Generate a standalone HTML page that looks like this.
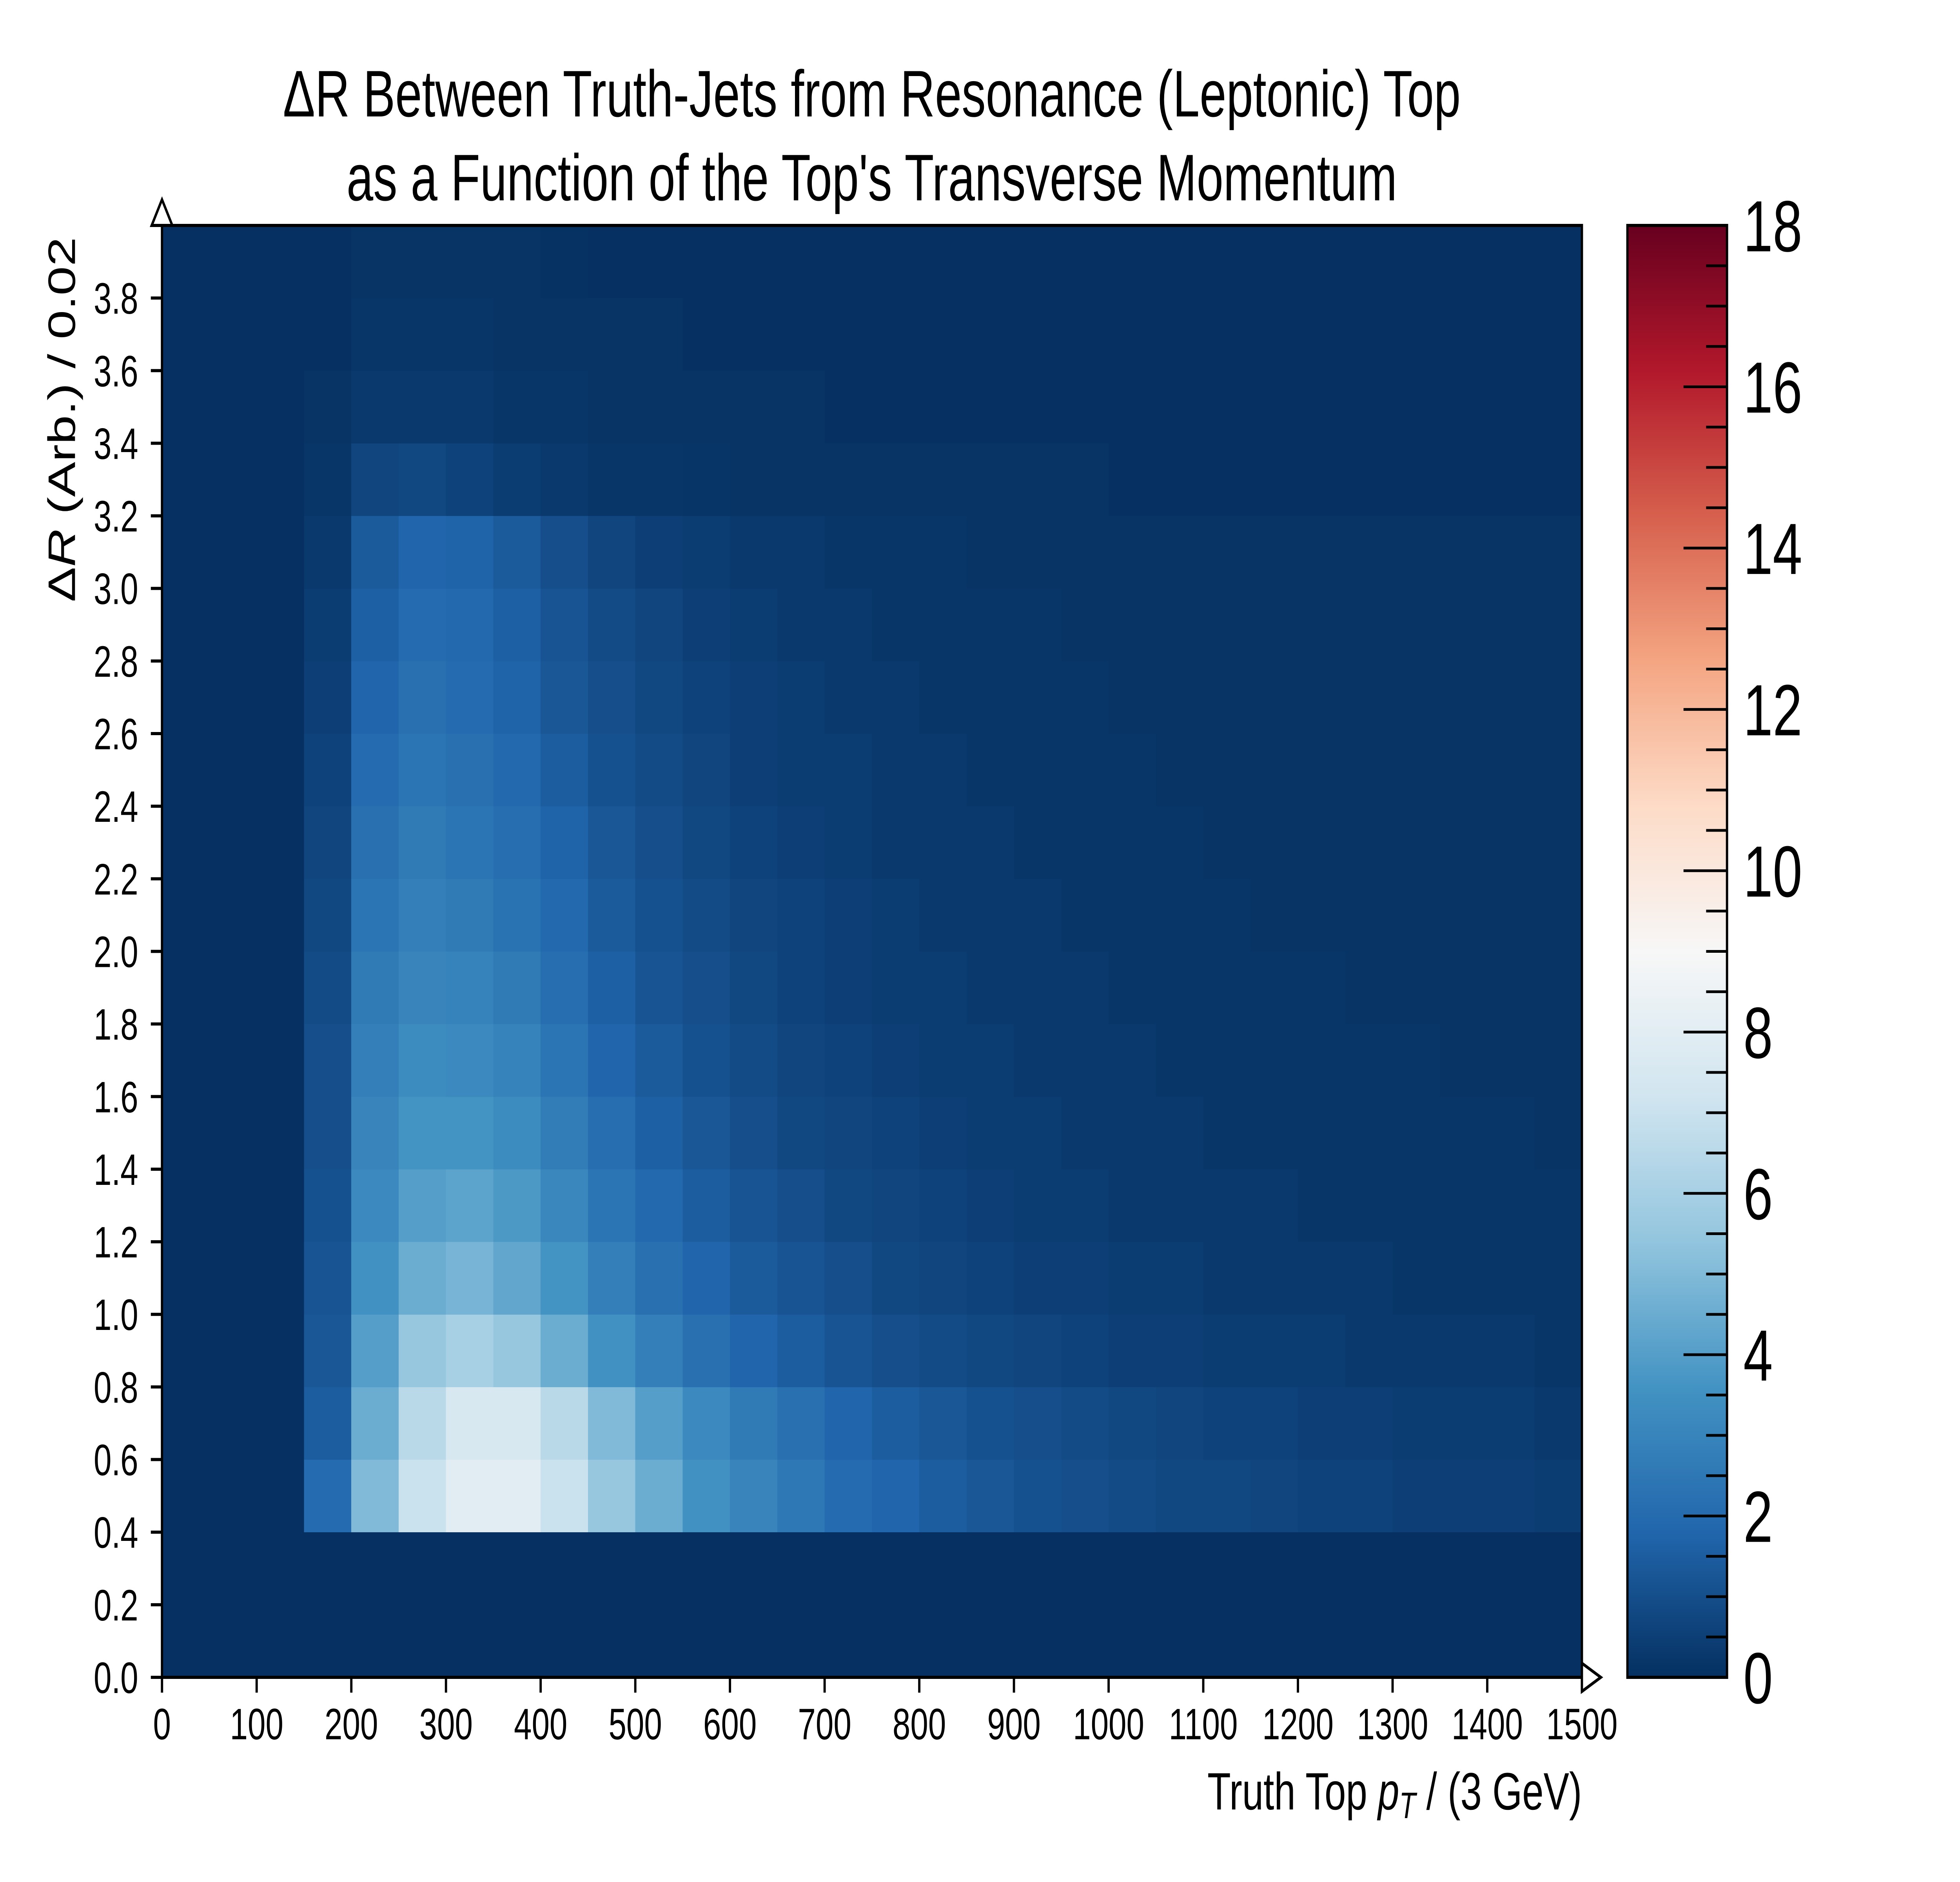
<!DOCTYPE html>
<html><head><meta charset="utf-8"><style>
html,body{margin:0;padding:0;background:#fff;overflow:hidden;width:100%;height:100%;}
svg{display:block;font-family:"Liberation Sans",sans-serif;width:100vw;height:100vh;}
</style></head><body>
<svg id="chart" viewBox="0 0 6848 4800" preserveAspectRatio="none" xmlns="http://www.w3.org/2000/svg">
<text x="3046" y="297" font-size="168" text-anchor="middle">ΔR Between Truth-Jets from Resonance (Leptonic) Top</text>
<text x="3046" y="511" font-size="168" text-anchor="middle">as a Function of the Top's Transverse Momentum</text>
<g id="cells"></g>
<g id="axes"></g>
<g id="cbar"></g>
<text x="5527" y="4615" font-size="134" text-anchor="end">Truth Top <tspan font-style="italic">p</tspan><tspan font-style="italic" font-size="94" dy="22">T</tspan><tspan dy="-22"> / (3 GeV)</tspan></text>
<text transform="translate(262,1070) rotate(-90)" font-size="134" text-anchor="middle">Δ<tspan font-style="italic">R</tspan> (Arb.) / 0.02</text>
</svg>
<script>
const xTicks=[0,100,200,300,400,500,600,700,800,900,1000,1100,1200,1300,1400,1500];
const yTicks=[0.0,0.2,0.4,0.6,0.8,1.0,1.2,1.4,1.6,1.8,2.0,2.2,2.4,2.6,2.8,3.0,3.2,3.4,3.6,3.8];
const cbarTicks=[0,2,4,6,8,10,12,14,16,18];
const xBinWidth=50;
const yBinWidth=0.2;
const grid=[
[0,0,0,0,0,0,0,0,0,0,0,0,0,0,0,0,0,0,0,0,0,0,0,0,0,0,0,0,0,0],
[0,0,0,0,0,0,0,0,0,0,0,0,0,0,0,0,0,0,0,0,0,0,0,0,0,0,0,0,0,0],
[0,0,0,2,5,7,8,8,7,5.5,4.5,3.5,3,2.5,2,1.8,1.5,1.3,1.1,1,0.9,0.8,0.8,0.7,0.6,0.6,0.5,0.5,0.5,0.4],
[0,0,0,1.5,4.5,6.5,7.5,7.5,6.5,5,4,3.2,2.6,2.2,1.8,1.5,1.3,1.1,1,0.9,0.8,0.7,0.6,0.6,0.5,0.5,0.4,0.4,0.4,0.3],
[0,0,0,1.3,4,5.5,6,5.5,4.5,3.5,2.8,2.2,1.8,1.5,1.2,1,0.9,0.8,0.7,0.6,0.5,0.5,0.4,0.4,0.4,0.3,0.3,0.3,0.3,0.2],
[0,0,0,1.2,3.5,4.5,4.8,4.3,3.6,2.8,2.2,1.8,1.4,1.2,1,0.8,0.7,0.6,0.5,0.5,0.4,0.4,0.3,0.3,0.3,0.3,0.2,0.2,0.2,0.2],
[0,0,0,1.1,3.2,4,4.2,3.8,3.1,2.4,1.9,1.5,1.2,1,0.8,0.7,0.6,0.5,0.4,0.4,0.3,0.3,0.3,0.3,0.2,0.2,0.2,0.2,0.2,0.2],
[0,0,0,1,3,3.6,3.6,3.3,2.7,2.1,1.6,1.3,1,0.8,0.7,0.6,0.5,0.4,0.4,0.3,0.3,0.3,0.2,0.2,0.2,0.2,0.2,0.2,0.2,0.1],
[0,0,0,1,2.8,3.3,3.2,2.9,2.4,1.8,1.4,1.1,0.9,0.7,0.6,0.5,0.4,0.4,0.3,0.3,0.3,0.2,0.2,0.2,0.2,0.2,0.2,0.1,0.1,0.1],
[0,0,0,0.9,2.6,3,2.9,2.6,2.1,1.6,1.2,1,0.8,0.6,0.5,0.4,0.4,0.3,0.3,0.3,0.2,0.2,0.2,0.2,0.2,0.1,0.1,0.1,0.1,0.1],
[0,0,0,0.8,2.4,2.8,2.6,2.3,1.9,1.4,1.1,0.9,0.7,0.6,0.5,0.4,0.3,0.3,0.3,0.2,0.2,0.2,0.2,0.1,0.1,0.1,0.1,0.1,0.1,0.1],
[0,0,0,0.7,2.2,2.6,2.4,2.1,1.7,1.3,1,0.8,0.6,0.5,0.4,0.3,0.3,0.3,0.2,0.2,0.2,0.2,0.1,0.1,0.1,0.1,0.1,0.1,0.1,0.1],
[0,0,0,0.6,2,2.4,2.2,1.9,1.5,1.1,0.9,0.7,0.5,0.4,0.4,0.3,0.3,0.2,0.2,0.2,0.2,0.1,0.1,0.1,0.1,0.1,0.1,0.1,0.1,0.1],
[0,0,0,0.5,1.8,2.2,2,1.7,1.3,1,0.8,0.6,0.5,0.4,0.3,0.3,0.2,0.2,0.2,0.2,0.1,0.1,0.1,0.1,0.1,0.1,0.1,0.1,0.1,0.1],
[0,0,0,0.4,1.6,2,1.9,1.6,1.2,0.9,0.7,0.5,0.4,0.3,0.3,0.2,0.2,0.2,0.2,0.1,0.1,0.1,0.1,0.1,0.1,0.1,0.1,0.1,0.1,0.1],
[0,0,0,0.3,1.4,1.8,1.7,1.4,1,0.7,0.5,0.4,0.3,0.3,0.2,0.2,0.2,0.1,0.1,0.1,0.1,0.1,0.1,0.1,0.1,0.1,0.1,0.1,0.1,0.1],
[0,0,0,0.2,0.7,0.8,0.6,0.4,0.3,0.2,0.2,0.15,0.1,0.1,0.1,0.1,0.1,0.1,0.1,0.1,0,0,0,0,0,0,0,0,0,0],
[0,0,0,0.1,0.3,0.3,0.3,0.2,0.2,0.1,0.1,0.1,0.1,0.1,0,0,0,0,0,0,0,0,0,0,0,0,0,0,0,0],
[0,0,0,0,0.2,0.2,0.2,0.1,0.1,0.1,0.1,0,0,0,0,0,0,0,0,0,0,0,0,0,0,0,0,0,0,0],
[0,0,0,0,0.1,0.1,0.1,0.1,0.05,0,0,0,0,0,0,0,0,0,0,0,0,0,0,0,0,0,0,0,0,0]
];
const NS="http://www.w3.org/2000/svg";
const L=566,R=5527,T=575,B=4278;
const CL=5686,CR=6034;
const xMax=1500,yMax=4.0,vMax=18;
const X=v=>L+(R-L)*v/xMax;
const Y=v=>B-(B-T)*v/yMax;
const CY=v=>B-(B-T)*v/vMax;
const stops=["#053061","#2166ac","#4393c3","#92c5de","#d1e5f0","#f7f7f7","#fddbc7","#f4a582","#d6604d","#b2182b","#67001f"];
function hex(h){return [1,3,5].map(i=>parseInt(h.substr(i,2),16));}
function color(v){let t=Math.max(0,Math.min(1,v/vMax))*10;let i=Math.min(9,Math.floor(t));let f=t-i;
 const a=hex(stops[i]),b=hex(stops[i+1]);return "rgb("+a.map((c,k)=>Math.round(c+(b[k]-c)*f)).join(",")+")";}
function mk(tag,at,parent){const e=document.createElementNS(NS,tag);for(const k in at)e.setAttribute(k,at[k]);parent.appendChild(e);return e;}
const cells=document.getElementById('cells');
const bg=mk('rect',{x:L,y:T,width:R-L,height:B-T,fill:stops[0]},cells);


grid.forEach((row,j)=>row.forEach((v,i)=>{
 if(v<=0)return;
 const x0=X(i*xBinWidth),x1=X((i+1)*xBinWidth),y0=Y((j+1)*yBinWidth),y1=Y(j*yBinWidth);
 const r=mk('rect',{x:x0,y:y0,width:x1-x0+0.5,height:y1-y0+0.5,fill:color(v),'shape-rendering':'crispEdges'},cells);
 
 
}));
const ax=document.getElementById('axes');
const frame=mk('rect',{x:L,y:T,width:R-L,height:B-T,fill:'none',stroke:'#000','stroke-width':8},ax);


xTicks.forEach(t=>{
 const x=X(t);
 const tk=mk('line',{x1:x,x2:x,y1:B,y2:B+39,stroke:'#000','stroke-width':8},ax);
 
 
 const lb=mk('text',{x:x,y:4436,'font-size':112,'text-anchor':'middle'},ax);lb.textContent=String(t);
 
 
});
yTicks.forEach(t=>{
 const y=Y(t);
 const tk=mk('line',{x1:L-39,x2:L,y1:y,y2:y,stroke:'#000','stroke-width':8},ax);
 
 
 const lb=mk('text',{x:483,y:y+40,'font-size':112,'text-anchor':'end'},ax);lb.textContent=t.toFixed(1);
 
 
});
const ua=mk('polygon',{points:(L-36)+","+(T)+" "+(L+36)+","+(T)+" "+L+","+(T-66),fill:'#fff',stroke:'#000','stroke-width':8},ax);


const ra=mk('polygon',{points:(R)+","+(B-36)+" "+(R)+","+(B+36)+" "+(R+66)+","+B,fill:'#fff',stroke:'#000','stroke-width':8},ax);


const cb=document.getElementById('cbar');
const defs=mk('defs',{},cb);
const lg=mk('linearGradient',{id:'cg',x1:0,y1:1,x2:0,y2:0},defs);
stops.forEach((s,i)=>mk('stop',{offset:(i*10)+'%','stop-color':s},lg));
const cr=mk('rect',{x:CL,y:T,width:CR-CL,height:B-T,fill:'url(#cg)',stroke:'#000','stroke-width':8},cb);


for(let v=0.5;v<vMax;v+=0.5){
 if(v%2===0)continue;
 const y=CY(v);
 const m=mk('line',{x1:CR-73,x2:CR,y1:y,y2:y,stroke:'#000','stroke-width':7},cb);
 
 
}
cbarTicks.forEach(t=>{
 const y=CY(t);
 if(t>0&&t<vMax){const m=mk('line',{x1:CR-152,x2:CR,y1:y,y2:y,stroke:'#000','stroke-width':7},cb);
 
 }
 const lb=mk('text',{x:6091,y:y+66,'font-size':185},cb);lb.textContent=String(t);
 
 
});
</script>
</body></html>
